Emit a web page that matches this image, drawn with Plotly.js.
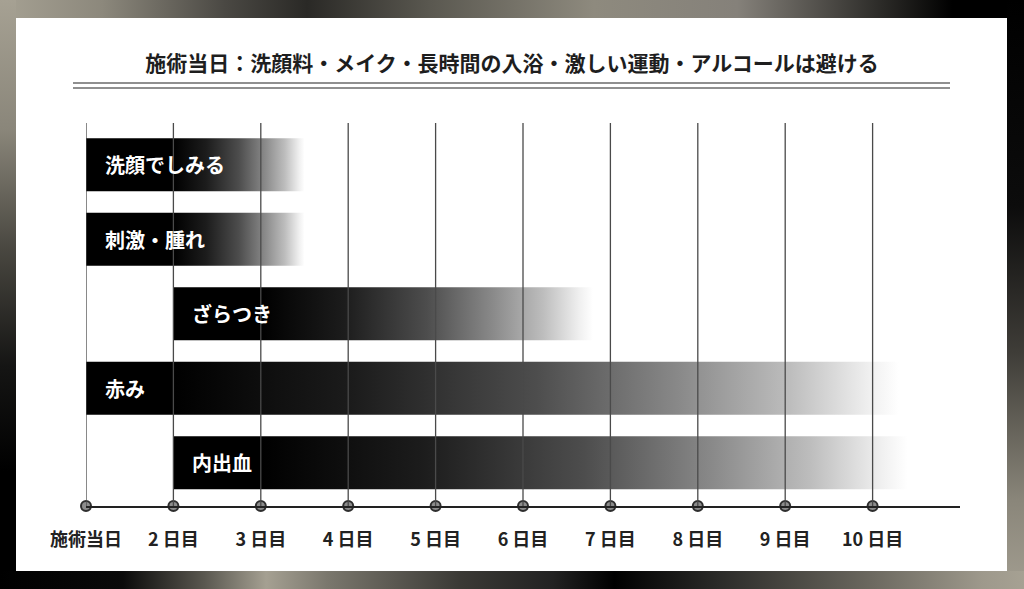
<!DOCTYPE html>
<html>
<head>
<meta charset="utf-8">
<script src="https://cdn.plot.ly/plotly-3.0.1.min.js"></script>
<style>
  html, body { margin: 0; padding: 0; width: 1024px; height: 589px; overflow: hidden; background: #000; }
  .band { position: absolute; }
  #top { left: 0; top: 0; width: 1024px; height: 18px;
    background: linear-gradient(to right, #a6a193 0%, #8c887c 10%, #4a4843 22%, #2a2926 30%, #5a5850 42%, #8e8a7e 58%, #85817a 72%, #2c2b28 86%, #000 93%, #000 100%); }
  #left { left: 0; top: 0; width: 16px; height: 589px;
    background: linear-gradient(to bottom, #a6a193 0%, #8a867a 22%, #4a4841 42%, #151514 62%, #000 80%, #000 100%); }
  #right { left: 1007px; top: 0; width: 17px; height: 589px;
    background: linear-gradient(to bottom, #000 0%, #0c0c0c 35%, #3f3d38 60%, #8a867a 85%, #a29d90 100%); }
  #bottom { left: 0; top: 571px; width: 1024px; height: 18px;
    background: linear-gradient(to right, #000 0%, #0a0a0a 12%, #5a5850 20%, #a5a092 26%, #7a776d 32%, #3a3935 45%, #222 54%, #000 60%, #2a2a28 70%, #6b685f 85%, #9e998c 96%, #a6a193 100%); }
  #panel { position: absolute; left: 16px; top: 18px; width: 991px; height: 553px; background: #fff; }
  #chart { position: absolute; left: 0; top: 0; width: 1024px; height: 589px; }
</style>
</head>
<body>
<div id="top" class="band"></div>
<div id="left" class="band"></div>
<div id="right" class="band"></div>
<div id="bottom" class="band"></div>
<div id="panel"></div>
<div id="chart"></div>
<script>
// ---- data ----
const titleText = "施術当日：洗顔料・メイク・長時間の入浴・激しい運動・アルコールは避ける";
const dayValues = [1, 2, 3, 4, 5, 6, 7, 8, 9, 10];
const dayLabels = ["施術当日", "2 日目", "3 日目", "4 日目", "5 日目", "6 日目", "7 日目", "8 日目", "9 日目", "10 日目"];
const symptoms = ["洗顔でしみる", "刺激・腫れ", "ざらつき", "赤み", "内出血"];
const startDay = [1, 1, 2, 1, 2];          // day the symptom begins
const fadeFromDay = [2, 2, 3, 2, 3];       // strong until this day, then fading
const endDay = [3.5, 3.5, 6.8, 10.3, 10.4]; // day by which it has faded out

// ---- style ----
const HALF = 0.355;
const FONT = '"Noto Sans CJK JP", "Noto Sans", sans-serif';
const grad = [[0, '#000000'], [0.25, '#1c1c1c'], [0.5, '#4d4d4d'], [0.7, '#8a8a8a'], [0.85, '#bdbdbd'], [0.96, '#f0f0f0'], [1, '#ffffff']];
const yTopVal = -0.56, yBotVal = 4.58;

const traces = [];
symptoms.forEach((name, i) => {
  const s = startDay[i], e = endDay[i];
  traces.push({
    type: 'scatter', mode: 'none', name: name,
    x: [s, e, e, s, s],
    y: [i - HALF, i - HALF, i + HALF, i + HALF, i - HALF],
    fill: 'toself',
    fillgradient: { type: 'horizontal', colorscale: grad, start: fadeFromDay[i], stop: e },
    hoverinfo: 'skip', showlegend: false
  });
});

// axis dots
traces.push({
  type: 'scatter', mode: 'markers',
  x: dayValues, y: dayValues.map(() => yBotVal),
  marker: { size: 10, color: '#8c8c8c', line: { color: '#2e2e2e', width: 2 } },
  cliponaxis: false, hoverinfo: 'skip', showlegend: false
});

const shapes = dayValues.map(d => ({
  type: 'line', xref: 'x', yref: 'paper', x0: d, x1: d, y0: 0, y1: 1,
  layer: 'above', line: { color: '#4a4a4a', width: 1.3 }
}));
// double rule under the title
[1.1044, 1.0914].forEach(yy => shapes.push({
  type: 'line', xref: 'paper', yref: 'paper', x0: -0.0149, x1: 0.9886, y0: yy, y1: yy,
  line: { color: '#6a6a6a', width: 1.5 }
}));

const annotations = symptoms.map((name, i) => ({
  x: startDay[i], y: i, xref: 'x', yref: 'y', text: name, showarrow: false,
  xanchor: 'left', yanchor: 'middle', xshift: 17,
  font: { family: FONT, size: 20, color: '#ffffff', weight: 'bold' }
}));

const layout = {
  width: 1024, height: 589,
  margin: { l: 86, r: 64, t: 123, b: 83 },
  paper_bgcolor: 'rgba(0,0,0,0)', plot_bgcolor: 'rgba(0,0,0,0)',
  title: {
    text: titleText, x: 0.5, xref: 'container', xanchor: 'center',
    y: 1 - 64 / 589, yref: 'container', yanchor: 'middle',
    font: { family: FONT, size: 21, color: '#1e1e1e', weight: 'bold' }
  },
  xaxis: {
    range: [1, 11], showgrid: false, zeroline: false,
    tickmode: 'array', tickvals: dayValues, ticktext: dayLabels,
    ticks: '', ticklabelstandoff: 16,
    tickfont: { family: FONT, size: 18, color: '#222', weight: 'bold' },
    showline: true, linecolor: '#222', linewidth: 2, layer: 'above traces',
    fixedrange: true
  },
  yaxis: {
    range: [yBotVal, yTopVal], showgrid: false, zeroline: false,
    showticklabels: false, showline: false, ticks: '',
    tickvals: symptoms.map((_, i) => i), ticktext: symptoms, fixedrange: true
  },
  shapes: shapes,
  annotations: annotations,
  showlegend: false
};

Plotly.newPlot('chart', traces, layout, { displayModeBar: false, staticPlot: true });
</script>
</body>
</html>
